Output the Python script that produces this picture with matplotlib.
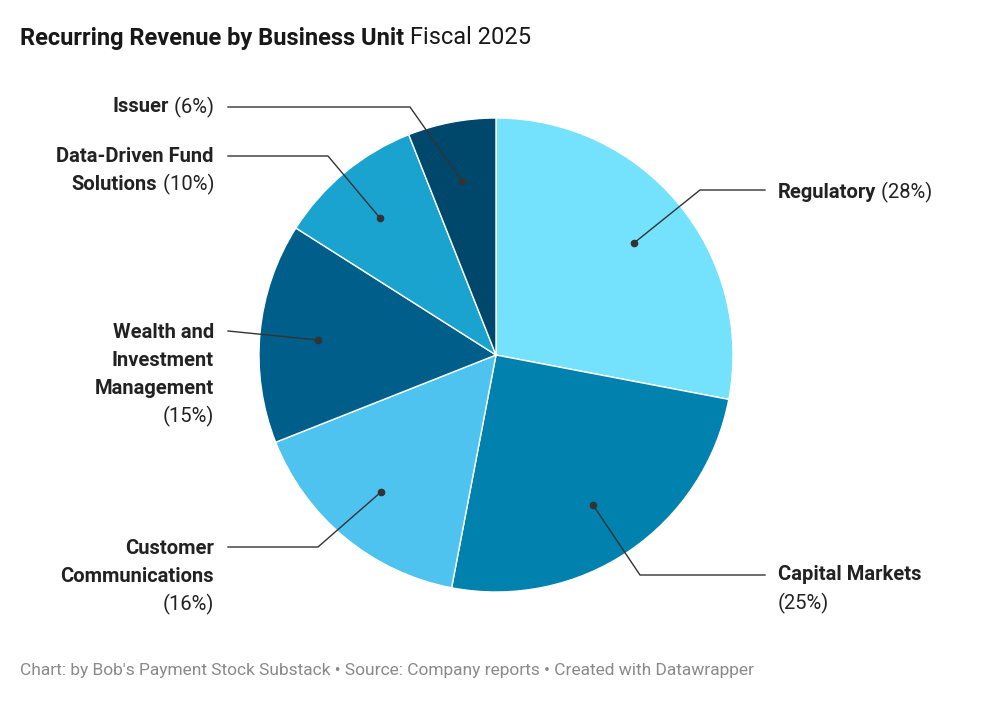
import matplotlib
matplotlib.use("Agg")
from matplotlib import pyplot as plt

plt.rcParams['font.family'] = ['Roboto', 'DejaVu Sans']

units = ['Regulatory', 'Capital Markets', 'Customer Communications',
         'Wealth and Investment Management', 'Data-Driven Fund Solutions', 'Issuer']
shares = [28, 25, 16, 15, 10, 6]
colors = ['#74e1fd', '#0081ae', '#4fc3ef', '#005f8a', '#1ba3d0', '#00476c']

# label lines: each line is a list of (text, bold) segments
label_lines = [
    [[('Regulatory', True), (' (28%)', False)]],
    [[('Capital Markets', True)], [('(25%)', False)]],
    [[('Customer', True)], [('Communications', True)], [('(16%)', False)]],
    [[('Wealth and', True)], [('Investment', True)], [('Management', True)], [('(15%)', False)]],
    [[('Data-Driven Fund', True)], [('Solutions', True), (' (10%)', False)]],
    [[('Issuer', True), (' (6%)', False)]],
]
# leader geometry in pixels: dot, elbow, end, text anchor x, first line y, align
leaders = [
    ((634, 243), (700, 190), (765, 190), 778, 192, 'left'),
    ((593, 505), (640, 575), (765, 575), 778, 575, 'left'),
    ((381, 492), (318, 547), (228, 547), 214, 548, 'right'),
    ((318, 340), (228, 331), (228, 331), 214, 332, 'right'),
    ((380, 218), (328, 156), (228, 156), 214, 156, 'right'),
    ((462, 181), (410, 107), (228, 107), 214, 107, 'right'),
]

W, H = 992, 704
fig = plt.figure(figsize=(W / 100, H / 100), dpi=100)
ax = fig.add_axes([0, 0, 1, 1])

ax.pie(shares, colors=colors, startangle=90, counterclock=False,
       center=(496, H - 355), radius=237, frame=True,
       wedgeprops=dict(edgecolor='white', linewidth=1))
ax.set_xlim(0, W)
ax.set_ylim(0, H)
ax.set_aspect('equal')
ax.axis('off')

renderer = fig.canvas.get_renderer()


def text_width(s, bold, size):
    t = ax.text(0, 0, s, fontsize=size, fontweight='bold' if bold else 'normal')
    bb = t.get_window_extent(renderer)
    t.remove()
    return bb.width


def draw_line(x, y, segs, align, size, color='#222222'):
    widths = [text_width(s, b, size) for s, b in segs]
    start = x if align == 'left' else x - sum(widths)
    for (s, b), w in zip(segs, widths):
        ax.text(start, H - y, s, fontsize=size, fontweight='bold' if b else 'normal',
                color=color, va='center', ha='left')
        start += w


for lines, (dot, elbow, end, tx, ty, align) in zip(label_lines, leaders):
    xs = [dot[0], elbow[0], end[0]]
    ys = [H - dot[1], H - elbow[1], H - end[1]]
    ax.plot(xs, ys, color='#333333', lw=1)
    ax.plot(dot[0], H - dot[1], 'o', color='#333333', ms=4.5)
    for i, segs in enumerate(lines):
        draw_line(tx, ty + 28 * i, segs, align, 14.5)

draw_line(20, 38, [('Recurring Revenue by Business Unit', True), (' Fiscal 2025', False)],
          'left', 17, color='#181818')
ax.text(20, H - 670, "Chart: by Bob's Payment Stock Substack \u2022 Source: Company reports "
        "\u2022 Created with Datawrapper", fontsize=12.5, color='#8a8a8a', va='center')

fig.savefig('out.png', dpi=100)
